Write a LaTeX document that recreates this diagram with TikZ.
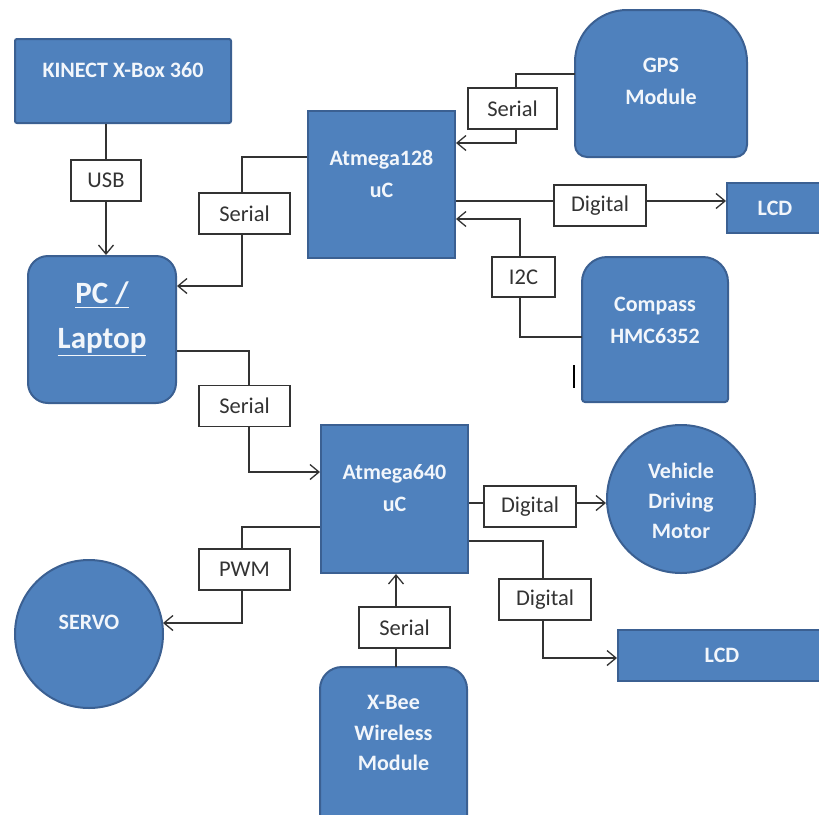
\documentclass[tikz,border=0pt]{standalone}
\usepackage{fontspec}
\setmainfont{Carlito}
\usetikzlibrary{arrows.meta,calc}
\definecolor{bfill}{HTML}{4F81BD}
\definecolor{bdraw}{HTML}{3B6092}
\definecolor{wtxt}{HTML}{F2F6FB}
\definecolor{lcol}{HTML}{333333}
\tikzset{
  blk/.style={fill=bfill,draw=bdraw,line width=2pt},
  boxn/.style={blk,rectangle,inner sep=0pt},
  ghost/.style={rectangle,inner sep=0pt,draw=none},
  wtext/.style={text=wtxt,font=\fontsize{22}{32}\selectfont\bfseries,align=center,inner sep=0pt},
  lbl/.style={draw=lcol,fill=white,line width=1.2pt,text=lcol,font=\fontsize{22.5}{25}\selectfont,inner sep=0pt,minimum height=41pt},
  arr/.style={draw=lcol,line width=1.3pt,-{Straight Barb[length=9pt,width=15pt,line width=1.3pt]}},
  ln/.style={draw=lcol,line width=1.3pt}
}
\begin{document}
\begin{tikzpicture}[x=1pt,y=-1pt]
\useasboundingbox (0,0) rectangle (819,814);
\clip (0,0) rectangle (819,814);
\fill[white] (0,0) rectangle (819,814);
% blue boxes
\node[boxn,rounded corners=2pt,minimum width=216pt,minimum height=84pt] (kinect) at (123,81) {};
\node[wtext] at (123,70) {KINECT X-Box 360};
\node[boxn,rounded corners=20pt,minimum width=148pt,minimum height=147pt] (pc) at (102,329.5) {};
\node[wtext,font=\fontsize{31}{45}\selectfont\bfseries] at (102,319) {\underline{PC /}\\\underline{Laptop}};
\node[boxn,minimum width=147pt,minimum height=147pt] (a128) at (381.5,184.5) {};
\node[wtext] at (381.5,174) {Atmega128\\uC};
\node[boxn,minimum width=147pt,minimum height=148pt] (a640) at (394.5,499) {};
\node[wtext] at (394.5,488) {Atmega640\\uC};
\node[boxn,minimum width=100pt,minimum height=50pt] (lcd1) at (777,208) {};
\node[wtext] at (775,208) {LCD};
\node[boxn,minimum width=210pt,minimum height=51pt] (lcd2) at (723,655) {};
\node[wtext] at (722,655) {LCD};
\node[blk,circle,minimum size=148pt,inner sep=0pt] (servo) at (89,634) {};
\node[wtext] at (89,622) {SERVO};
\node[blk,circle,minimum size=148pt,inner sep=0pt] (veh) at (681,499) {};
\node[wtext,font=\fontsize{22}{30}\selectfont\bfseries] at (681,501) {Vehicle\\Driving\\Motor};
% GPS dome
\path[blk] (575,62) arc[start angle=180,end angle=270,radius=52] -- (695,10)
  arc[start angle=270,end angle=360,radius=52] -- (747,145)
  arc[start angle=0,end angle=90,radius=12] -- (587,157)
  arc[start angle=90,end angle=180,radius=12] -- cycle;
\node[ghost,minimum width=172pt,minimum height=147pt] (gps) at (661,83.5) {};
\node[wtext] at (661,81) {GPS\\Module};
% Compass
\path[blk] (582,282) arc[start angle=180,end angle=270,radius=25] -- (703,257)
  arc[start angle=270,end angle=360,radius=25] -- (728,399)
  arc[start angle=0,end angle=90,radius=3] -- (585,402)
  arc[start angle=90,end angle=180,radius=3] -- cycle;
\node[ghost,minimum width=146pt,minimum height=145pt] (comp) at (655,329.5) {};
\node[wtext] at (655,320) {Compass\\HMC6352};
% X-Bee
\path[blk] (320,689) arc[start angle=180,end angle=270,radius=22] -- (445,667)
  arc[start angle=270,end angle=360,radius=22] -- (467,840) -- (320,840) -- cycle;
\node[ghost,minimum width=147pt,minimum height=147pt] (xbee) at (393.5,740.5) {};
\node[wtext,font=\fontsize{22}{30.5}\selectfont\bfseries] at (393.5,733) {X-Bee\\Wireless\\Module};
% small mark
\draw[black,line width=2.8pt] (574,365) -- (574,388);
% connectors
\node[lbl,minimum width=70pt] (usb) at (106,180.5) {};
\draw[arr] (usb |- kinect.south) -- (usb |- pc.north);
\node[lbl,minimum width=70pt] at (usb) {USB};

\draw[arr] (a128.west |- 0,157) -- (242,157) -- (242,286) -- (pc.east |- 0,286);
\node[lbl,minimum width=91pt] (s1) at (244.5,213.5) {Serial};

\draw[arr] (pc.east |- 0,351) -- (249,351) -- (249,472) -- (a640.west |- 0,472);
\node[lbl,minimum width=91pt] (s2) at (244.5,406) {Serial};

\draw[arr] (a640.west |- 0,527) -- (242,527) -- (242,623) -- (163,623);
\node[lbl,minimum width=91pt] (pwm) at (244.5,569.5) {PWM};

\draw[arr] (xbee.north -| 396,0) -- (a640.south -| 396,0);
\node[lbl,minimum width=91pt] (s3) at (404.5,627.5) {Serial};

\draw[arr] (a640.east |- 0,503) -- (veh.west |- 0,503);
\node[lbl,minimum width=92pt] (d1) at (530,506.5) {Digital};

\draw[arr] (a640.east |- 0,541) -- (543,541) -- (543,658) -- (lcd2.west |- 0,658);
\node[lbl,minimum width=92pt] (d2) at (545,599.5) {Digital};

\draw[arr] (gps.west |- 0,74) -- (516,74) -- (516,143) -- (a128.east |- 0,143);
\node[lbl,minimum width=89pt] (s4) at (512.5,108.5) {Serial};

\draw[arr] (a128.east |- 0,201) -- (lcd1.west |- 0,201);
\node[lbl,minimum width=92pt] (d3) at (600,205.5) {Digital};

\draw[arr] (comp.west |- 0,337) -- (520,337) -- (520,219) -- (a128.east |- 0,219);
\node[lbl,minimum width=63pt,minimum height=40pt] (i2c) at (523.5,277) {I2C};
\end{tikzpicture}
\end{document}
